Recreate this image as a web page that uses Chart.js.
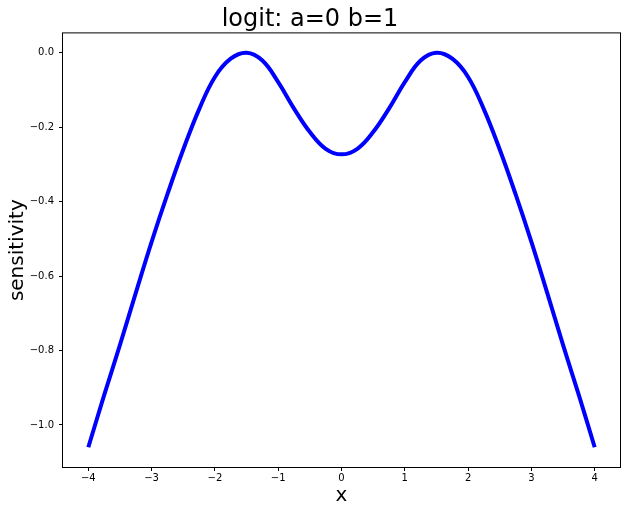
<!DOCTYPE html>
<html>
<head>
<meta charset="utf-8">
<script src="https://cdn.jsdelivr.net/npm/chart.js"></script>
<style>
  body { margin: 0; background: #fff; }
  #wrap { width: 626px; height: 514px; }
</style>
</head>
<body>
<div id="wrap"><canvas id="graph" width="626" height="514"></canvas></div>
<script>
// values
const xValues = [-4, -3.75, -3.5, -3.25, -3, -2.75, -2.5, -2.25, -2, -1.75, -1.5, -1.25, -1, -0.75, -0.5, -0.25,
    0, 0.25, 0.5, 0.75, 1, 1.25, 1.5, 1.75, 2, 2.25, 2.5, 2.75, 3, 3.25, 3.5, 3.75, 4];
const sensitivity = [-1.06, -0.92, -0.785, -0.645, -0.508, -0.38, -0.26, -0.152, -0.065, -0.016, 0.0, -0.021, -0.079, -0.15, -0.213, -0.258,
    -0.273, -0.258, -0.213, -0.15, -0.079, -0.021, 0.0, -0.016, -0.065, -0.152, -0.26, -0.38, -0.508, -0.645, -0.785, -0.92, -1.06];
const xTicks = [-4, -3, -2, -1, 0, 1, 2, 3, 4];
const yTicks = [0.0, -0.2, -0.4, -0.6, -0.8, -1.0];

const font = 'DejaVu Sans';
Chart.defaults.color = '#000';
Chart.defaults.font.family = font;

function minus(s) {
    return s.replace('-', '\u2212');
}

// box around the plot area, like matplotlib spines
const frame = {
    id: 'frame',
    afterDraw(chart) {
        const a = chart.chartArea;
        const ctx = chart.ctx;
        ctx.save();
        ctx.strokeStyle = '#000';
        ctx.lineWidth = 1;
        ctx.strokeRect(a.left - 0.5, a.top - 0.5, a.right - a.left + 1, a.bottom - a.top + 1);
        ctx.restore();
    }
};

const points = xValues.map((x, i) => ({ x: x, y: sensitivity[i] }));

const ctx = document.getElementById("graph").getContext("2d");
new Chart(ctx, {
    type: 'line',
    data: {
        datasets: [{
            data: points,
            borderColor: '#0000ff',
            borderWidth: 4,
            pointRadius: 0,
            tension: 0.4,
            fill: false
        }]
    },
    options: {
        responsive: false,
        animation: false,
        layout: { padding: { left: 0, right: 6, top: 1, bottom: 0 } },
        plugins: {
            legend: { display: false },
            tooltip: { enabled: false },
            title: {
                display: true,
                text: 'logit: a=0 b=1',
                color: '#000',
                font: { family: font, size: 24, weight: 'normal', lineHeight: 1.1 },
                padding: { top: 6, bottom: 0 }
            }
        },
        scales: {
            x: {
                type: 'linear',
                min: -4.4,
                max: 4.4,
                afterBuildTicks: scale => { scale.ticks = xTicks.map(v => ({ value: v })); },
                afterFit: scale => { scale.height = 47; },
                ticks: {
                    font: { size: 10 },
                    color: '#000',
                    padding: 1,
                    maxRotation: 0,
                    callback: v => minus(String(v))
                },
                grid: { drawOnChartArea: false, tickLength: 4, color: '#000' },
                border: { display: false },
                title: {
                    display: true,
                    text: 'x',
                    font: { size: 20 },
                    padding: { top: 0, bottom: 6 }
                }
            },
            y: {
                min: -1.113,
                max: 0.052,
                afterBuildTicks: scale => { scale.ticks = yTicks.map(v => ({ value: v })); },
                afterFit: scale => { scale.width = 63; },
                ticks: {
                    font: { size: 10 },
                    color: '#000',
                    padding: 5,
                    callback: v => minus(v.toFixed(1))
                },
                grid: { drawOnChartArea: false, tickLength: 4, color: '#000' },
                border: { display: false },
                title: {
                    display: true,
                    text: 'sensitivity',
                    font: { size: 20 },
                    padding: { top: 6, bottom: 0 }
                }
            }
        }
    },
    plugins: [frame]
});
</script>
</body>
</html>
